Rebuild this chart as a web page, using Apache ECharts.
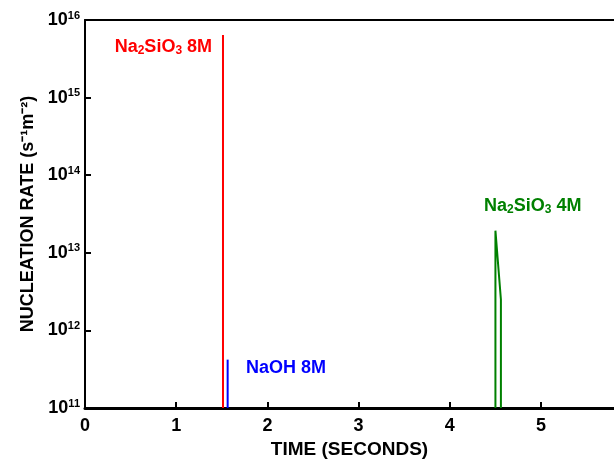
<!DOCTYPE html>
<html>
    <head>
        <meta charset="utf-8">
        <title>Nucleation rate</title>
        <script src="https://cdn.jsdelivr.net/npm/echarts@6/dist/echarts.min.js"></script>
    </head>
    <body style="margin:0">
        <div id="main" style="width: 614px;height: 459px;"></div>
        <script>
            // [time, rate] pairs
            let na2sio3_8m = [[1.513, 1e11], [1.513, 6.4e15]];
            let naoh_8m = [[1.564, 1e11], [1.564, 4.2e11]];
            let na2sio3_4m = [[4.50, 1e11], [4.50, 1.93e13], [4.56, 2.5e12], [4.56, 1e11]];
            let yTicks = [11, 12, 13, 14, 15, 16];
            let xTicks = [0, 1, 2, 3, 4, 5];
            // label anchor (left edge of text) in data units
            let labelPos = [[0.32, 4.5e15], [1.76, 3.3e11], [4.37, 4.0e13]];
            let labelText = ['{t|Na}{s|2}{t|SiO}{s|3}{t| 8M}', '{t|NaOH 8M}', '{t|Na}{s|2}{t|SiO}{s|3}{t| 4M}'];
            let colors = ['#ff0000', '#0000ff', '#008000'];

            let font = '"Liberation Sans", Arial, sans-serif';
            let lineSeries = function (data, color) {
                return {
                    type: 'line',
                    data: data,
                    symbol: 'none',
                    lineStyle: {color: color, width: 2},
                    animation: false
                };
            };
            let labelSeries = labelPos.map(function (p, i) {
                return {
                    type: 'scatter',
                    data: [p],
                    symbolSize: 1,
                    itemStyle: {color: 'transparent', opacity: 1},
                    silent: true,
                    label: {
                        show: true,
                        position: 'right',
                        distance: 0,
                        formatter: labelText[i],
                        rich: {
                            t: {fontSize: 18, fontWeight: 'bold', color: colors[i], fontFamily: font},
                            s: {fontSize: 12, fontWeight: 'bold', color: colors[i], fontFamily: font, verticalAlign: 'bottom', padding: [8, 0, 0, 0]}
                        }
                    },
                    animation: false
                };
            });

            let option = {
                grid: {left: 85, right: 0, top: 20, bottom: 51, outerBoundsMode: 'none'},
                xAxis: [{
                    type: 'value',
                    min: 0,
                    max: 5.8,
                    interval: 1,
                    name: 'TIME (SECONDS)',
                    nameLocation: 'middle',
                    nameGap: 32,
                    nameTextStyle: {fontSize: 19, fontWeight: 'bold', color: '#000', fontFamily: font},
                    splitLine: {show: false},
                    axisLine: {lineStyle: {color: '#000', width: 3}},
                    axisTick: {inside: true, length: 6, customValues: xTicks, lineStyle: {color: '#000', width: 2}},
                    axisLabel: {
                        fontSize: 18, fontWeight: 'bold', color: '#000', fontFamily: font, margin: 9,
                        customValues: xTicks
                    }
                }, {
                    type: 'value',
                    position: 'top',
                    min: 0,
                    max: 5.8,
                    axisLine: {show: true, lineStyle: {color: '#000', width: 2}},
                    axisTick: {show: false},
                    axisLabel: {show: false},
                    splitLine: {show: false}
                }],
                yAxis: {
                    type: 'log',
                    logBase: 10,
                    min: 1e11,
                    max: 1e16,
                    name: 'NUCLEATION RATE (s⁻¹m⁻²)',
                    nameLocation: 'middle',
                    nameGap: 48,
                    nameTextStyle: {fontSize: 18, fontWeight: 'bold', color: '#000', fontFamily: font},
                    splitLine: {show: false},
                    axisLine: {show: true, lineStyle: {color: '#000', width: 2}},
                    axisTick: {inside: true, length: 6, lineStyle: {color: '#000', width: 2}},
                    axisLabel: {
                        margin: 5,
                        formatter: function (v) {
                            let e = Math.round(Math.log10(v));
                            return yTicks.indexOf(e) >= 0 ? '{b|10}{p|' + e + '}' : '';
                        },
                        rich: {
                            b: {fontSize: 18, fontWeight: 'bold', color: '#000', fontFamily: font},
                            p: {fontSize: 11, fontWeight: 'bold', color: '#000', fontFamily: font, verticalAlign: 'top', padding: [0, 0, 9, 0]}
                        }
                    }
                },
                series: [
                    lineSeries(na2sio3_8m, colors[0]),
                    lineSeries(naoh_8m, colors[1]),
                    lineSeries(na2sio3_4m, colors[2])
                ].concat(labelSeries)
            };
            let chart = echarts.init(document.getElementById('main'));
            chart.setOption(option);
        </script>
    </body>
</html>
